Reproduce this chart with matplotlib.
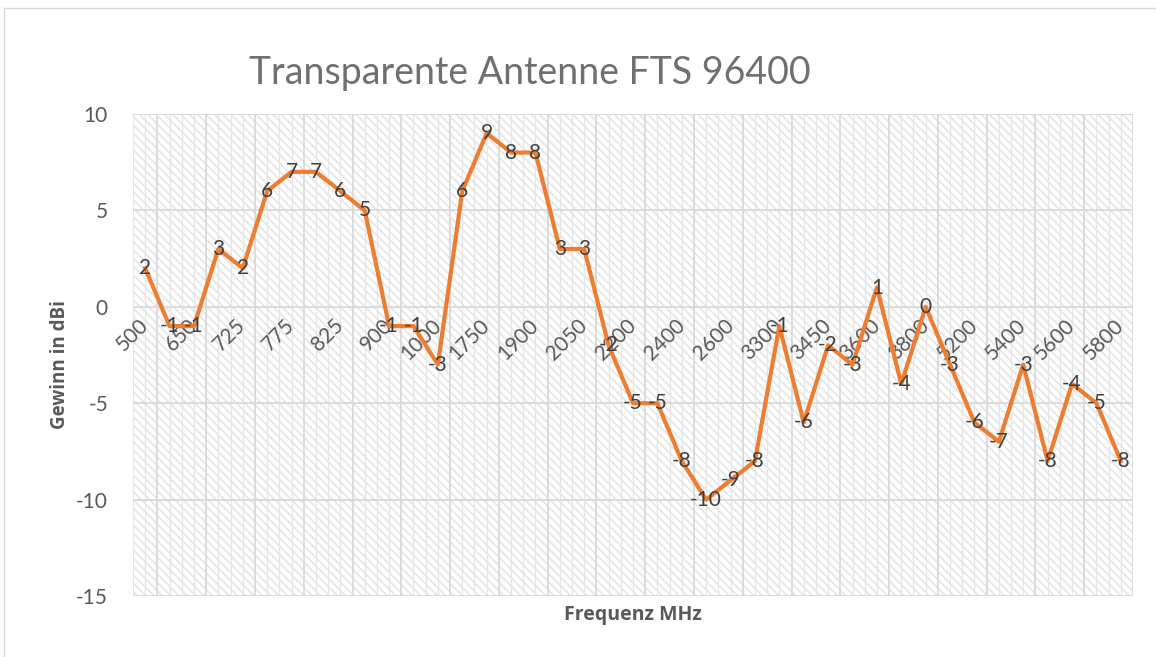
import matplotlib
matplotlib.use("Agg")
import matplotlib.pyplot as plt
import numpy as np

# Frequencies (category axis) and measured gain
frequencies = [
    "500", "600", "650", "700", "725", "750", "775", "800", "825", "850",
    "900", "950", "1000", "1700", "1750", "1800", "1900", "1950", "2050", "2100",
    "2200", "2300", "2400", "2500", "2600", "2700", "3300", "3400", "3450", "3500",
    "3600", "3700", "3800", "5100", "5200", "5300", "5400", "5500", "5600", "5700",
    "5800",
]
gain_dbi = [
    2, -1, -1, 3, 2, 6, 7, 7, 6, 5,
    -1, -1, -3, 6, 9, 8, 8, 3, 3, -2,
    -5, -5, -8, -10, -9, -8, -1, -6, -2, -3,
    1, -4, 0, -3, -6, -7, -3, -8, -4, -5,
    -8,
]
y_ticks = [-15, -10, -5, 0, 5, 10]

TEXT = "#595959"
LABEL = "#404040"
ORANGE = "#ED7D31"

plt.rcParams["font.family"] = ["Lato", "DejaVu Sans"]
plt.rcParams["axes.unicode_minus"] = False
plt.rcParams["hatch.color"] = "#e5e5e5"
plt.rcParams["hatch.linewidth"] = 1.2

fig = plt.figure(figsize=(11.56, 6.57), dpi=100)
ax = fig.add_axes([133 / 1156, 1 - 596 / 657, 1000 / 1156, 482 / 657])

n = len(frequencies)
x = np.arange(n)

# hatched plot area
ax.patch.set_facecolor("white")
ax.patch.set_hatch("\\\\\\\\")
ax.patch.set_edgecolor("#e5e5e5")

# vertical grid: fine lines every half category, stronger every 2 categories
for k, pos in enumerate(np.arange(-0.5, n, 0.5)):
    major = (k % 4 == 2)
    ax.axvline(pos, color="#d9d9d9" if major else "#e6e6e6",
               lw=1.3 if major else 0.9, zorder=0.5)
for yv in y_ticks:
    ax.axhline(yv, color="#d9d9d9", lw=1.3, zorder=0.5)

ax.plot(x, gain_dbi, color=ORANGE, lw=3, zorder=3, solid_joinstyle="round")
for i, v in enumerate(gain_dbi):
    ax.text(i, v, str(v), ha="center", va="center", fontsize=15,
            color=LABEL, zorder=4)

ax.set_xlim(-0.5, n - 0.5)
ax.set_ylim(-15, 10)
ax.set_yticks(y_ticks)
ax.set_xticks(x[::2], frequencies[::2])
ax.spines["bottom"].set_position(("data", 0))
for s in ax.spines.values():
    s.set_visible(False)
ax.tick_params(axis="both", length=0, labelsize=15, labelcolor=TEXT)
ax.tick_params(axis="y", pad=18)
for lab in ax.get_xticklabels():
    lab.set_rotation(45)
    lab.set_rotation_mode("anchor")
    lab.set_ha("right")
    lab.set_va("center")
ax.tick_params(axis="x", pad=11)

fig.text(530 / 1156, 1 - 73 / 657, "Transparente Antenne FTS 96400",
         ha="center", va="center", fontsize=27, color="#707070")
fig.text(633 / 1156, 1 - 615 / 657, "Frequenz MHz", ha="center", va="center",
         fontsize=14, fontweight="bold", color=TEXT, family="Open Sans")
fig.text(60 / 1156, 1 - 365 / 657, "Gewinn in dBi", ha="center", va="center",
         rotation=90, fontsize=13.5, fontweight="bold", color=TEXT,
         family="Open Sans")

# outer chart frame (top and left edges visible)
fig.add_artist(plt.Line2D([4 / 1156, 4 / 1156], [0, 1 - 8 / 657],
                          transform=fig.transFigure, color="#d9d9d9", lw=1))
fig.add_artist(plt.Line2D([4 / 1156, 1], [1 - 8 / 657, 1 - 8 / 657],
                          transform=fig.transFigure, color="#d9d9d9", lw=1))

fig.savefig("out.png", dpi=100)
